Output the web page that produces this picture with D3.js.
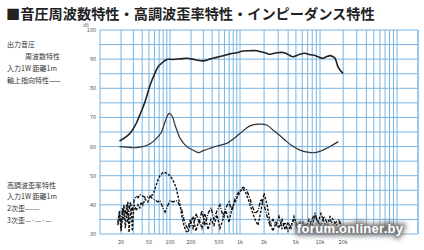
<!DOCTYPE html>
<html>
<head>
<meta charset="utf-8">
<script src="https://cdn.jsdelivr.net/npm/d3@7"></script>
<style>
  body { margin: 0; background: #fff; }
</style>
</head>
<body>
<svg id="chart"></svg>
<script>
// on-axis SPL response, [Hz, dB]
var spl = [[19,61.9],[24,63.5],[28,65.1],[33,68],[37,70.8],[44,75.4],[52,81.1],[61,85.2],[68,87.5],[76,88.6],[90,89.9],[110,89.9],[140,90.1],[173,90.3],[230,89.8],[296,89.4],[380,90.1],[465,90.6],[580,91.2],[720,91.8],[900,92.2],[1090,92.8],[1330,92.9],[1620,92.9],[1780,92.6],[2000,92.3],[2370,91.7],[2800,92.1],[3450,92.3],[4000,91.6],[4600,90.8],[5500,91.6],[6500,92],[7300,91.6],[8200,91.4],[9500,90.8],[10900,90.3],[12300,90.9],[13500,91.2],[14800,90.8],[15700,90.3],[17100,87.4],[18500,86],[19900,85.1]];

// impedance curve drawn on the same paper
var imp = [[19,60],[24,59.8],[30,59.6],[37,59.8],[44,60.2],[52,61],[61,62.3],[70,63.8],[76,65.1],[85,68.5],[97,71.4],[107,70.5],[118,67.4],[130,64.6],[139,62.9],[173,60],[213,58.8],[254,57.9],[300,58.6],[373,59.4],[470,60.2],[645,61.1],[800,62.6],[1000,64.5],[1330,67.1],[1680,67.7],[2160,67.4],[2580,65.7],[3200,63.6],[3830,61.7],[4600,60.1],[5620,58.8],[7000,58.1],[8660,57.9],[10300,58.5],[12200,59.4],[14500,60.5],[17300,61.7]];

// 2nd harmonic distortion
var h2 = [[18,34],[19,38],[20,31],[21,36],[22,40],[23,32],[24,37],[25,41],[26,30.5],[27,36],[28,39],[29,31],[30,37],[31,40],[33,38],[35,40],[37,39],[39,41],[41,40],[44,42],[48,41],[52,43],[57,43.5],[63,46.5],[67,48.5],[72,50],[79,51],[88,51],[94,50.5],[100,50],[110,48.5],[122,46],[130,43],[139,40],[148,36],[158,33],[169,31],[181,30.5],[193,33],[213,36],[235,31],[260,35],[286,32],[316,37],[349,31.5],[385,35],[425,33],[469,36.5],[518,32],[572,35],[631,38],[697,34],[769,39],[848,41],[936,43],[1000,44.5],[1090,45.5],[1190,44],[1300,41],[1410,38],[1540,35],[1680,33],[1830,38],[2000,44],[2180,40],[2370,34],[2580,31],[2820,34],[3070,32],[3350,35],[3650,31.5],[3980,34],[4340,32],[4730,36],[5160,33],[5620,31],[6130,34],[6680,32],[7290,35],[7940,33],[8660,36],[9440,34],[10300,37],[11300,34],[12300,32],[13500,36],[14800,35],[16100,33],[17700,34],[19300,32]];

// 3rd harmonic distortion
var h3 = [[18,33],[19,37],[20,32],[21,39],[22,35],[24,40],[25,34],[27,41],[29,38],[31,42],[33,43],[35,42.5],[37,43.5],[41,43],[45,42.5],[52,43],[57,42],[63,41.5],[67,41],[72,41.5],[79,39],[85,37.5],[90,39],[100,41.5],[110,41],[122,41.5],[130,41],[139,39.5],[148,38],[158,35],[169,33],[181,31.5],[193,35],[213,32],[235,37],[260,34],[286,38],[316,33],[349,37],[385,39],[425,35],[469,38],[518,40],[572,36],[631,39],[697,41],[769,38],[848,42],[936,44],[1000,45],[1090,46],[1190,45.5],[1300,43],[1410,40],[1540,37],[1680,38],[1830,42],[2000,40],[2180,36],[2370,33],[2580,35],[2820,33],[3070,36],[3350,32],[3650,34],[3980,31],[4340,33],[4730,35],[5160,32],[5620,34],[6130,31],[6680,33],[7290,32],[7940,35],[8660,37],[9440,34],[10300,33],[11300,36],[12300,34],[13500,35],[14800,33],[16100,34],[17700,35],[19300,32]];

var yTicks = [30, 40, 50, 60, 70, 80, 90, 100];
var xTicks = [20, 50, 100, 200, 500, 1000, 2000, 5000, 10000, 20000];
var xTickLabels = ["20", "50", "100", "200", "500", "1k", "2k", "5k", "10k", "20k"];

let width = 424
let height = 250
let grid = "#79b4e2"

// the scanned log paper is not quite uniform, so the decades are pinned one by one
let x = d3.scaleLog()
    .domain([10, 100, 1000, 10000, 100000, 200000])
    .range([100, 170, 240, 320, 397, 418])
let y = d3.scaleLinear()
    .domain([30, 100])
    .range([234, 30])

const svg = d3.select("#chart")
    .attr("width", width)
    .attr("height", height)
    .attr("font-family", "'Noto Sans CJK JP', sans-serif");

// paper grid
let vLines = []
;[10, 100, 1000, 10000, 100000].forEach(d => d3.range(1, 10).forEach(k => vLines.push(d * k)))
vLines = vLines.filter(f => f <= 200000).concat([200000])

svg.append("g")
  .selectAll("line")
  .data(vLines)
  .join("line")
    .attr("x1", d => x(d)).attr("x2", d => x(d))
    .attr("y1", y(100)).attr("y2", y(30))
    .attr("stroke", grid)
    .attr("stroke-width", 1);

svg.append("g")
  .selectAll("line")
  .data(d3.range(30, 101, 5))
  .join("line")
    .attr("x1", x(10)).attr("x2", x(200000))
    .attr("y1", d => y(d)).attr("y2", d => y(d))
    .attr("stroke", grid)
    .attr("stroke-width", 1);

// axis labels
svg.append("g")
    .attr("font-size", 5.5)
    .attr("fill", "#555")
    .attr("text-anchor", "end")
  .selectAll("text")
  .data(yTicks)
  .join("text")
    .attr("x", 96)
    .attr("y", d => y(d) + 2)
    .text(d => d);

svg.append("text")
    .attr("x", 83).attr("y", 26.5)
    .attr("font-size", 4.5).attr("fill", "#666")
    .text("dB");

svg.append("g")
    .attr("font-size", 5.5)
    .attr("fill", "#555")
    .attr("text-anchor", "middle")
  .selectAll("text")
  .data(xTicks)
  .join("text")
    .attr("x", d => x(d))
    .attr("y", 244)
    .text((d, i) => xTickLabels[i]);

// curves
let line = d3.line()
    .x(d => x(d[0]))
    .y(d => y(d[1]))
    .curve(d3.curveCatmullRom.alpha(0.5))

let jag = d3.line()
    .x(d => x(d[0]))
    .y(d => y(d[1]))

svg.append("path").datum(imp)
    .attr("d", line).attr("fill", "none")
    .attr("stroke", "#333").attr("stroke-width", 1.2);

svg.append("path").datum(spl)
    .attr("d", line).attr("fill", "none")
    .attr("stroke", "#222").attr("stroke-width", 1.6);

svg.append("path").datum(h2)
    .attr("d", jag).attr("fill", "none")
    .attr("stroke", "#111").attr("stroke-width", 1.4)
    .attr("stroke-dasharray", "2.5,1.5");

svg.append("path").datum(h3)
    .attr("d", jag).attr("fill", "none")
    .attr("stroke", "#111").attr("stroke-width", 1.4)
    .attr("stroke-dasharray", "4,1.5,1,1.5");

// title
svg.append("text")
    .attr("x", 6).attr("y", 19)
    .attr("font-size", 14.2)
    .attr("font-weight", 700)
    .attr("fill", "#222")
    .text("■音圧周波数特性・高調波歪率特性・インピーダンス特性");

// legend notes
let notes = [
  ["出力音圧", 7, 47],
  ["周波数特性", 25, 59],
  ["入力1W 距離1m", 7, 71],
  ["軸上指向特性——", 7, 83],
  ["高調波歪率特性", 7, 188],
  ["入力1W 距離1m", 7, 199],
  ["2次歪------", 7, 211],
  ["3次歪—·—·—", 7, 223]
]
svg.append("g")
    .attr("font-size", 7)
    .attr("fill", "#333")
  .selectAll("text")
  .data(notes)
  .join("text")
    .attr("x", d => d[1])
    .attr("y", d => d[2])
    .text(d => d[0]);

// watermark
const defs = svg.append("defs");
defs.append("filter").attr("id", "blur")
    .attr("x", "-20%").attr("y", "-60%").attr("width", "140%").attr("height", "220%")
  .append("feGaussianBlur").attr("stdDeviation", 2.5);

svg.append("text")
    .attr("x", 297).attr("y", 233)
    .attr("font-family", "'Liberation Sans', sans-serif")
    .attr("font-size", 13).attr("font-weight", 700)
    .attr("textLength", 106)
    .attr("fill", "#777").attr("stroke", "#777").attr("stroke-width", 5)
    .attr("filter", "url(#blur)")
    .text("forum.onliner.by");

svg.append("text")
    .attr("x", 297).attr("y", 233)
    .attr("font-family", "'Liberation Sans', sans-serif")
    .attr("font-size", 13).attr("font-weight", 700)
    .attr("textLength", 106)
    .attr("fill", "#fff")
    .text("forum.onliner.by");
</script>
</body>
</html>
